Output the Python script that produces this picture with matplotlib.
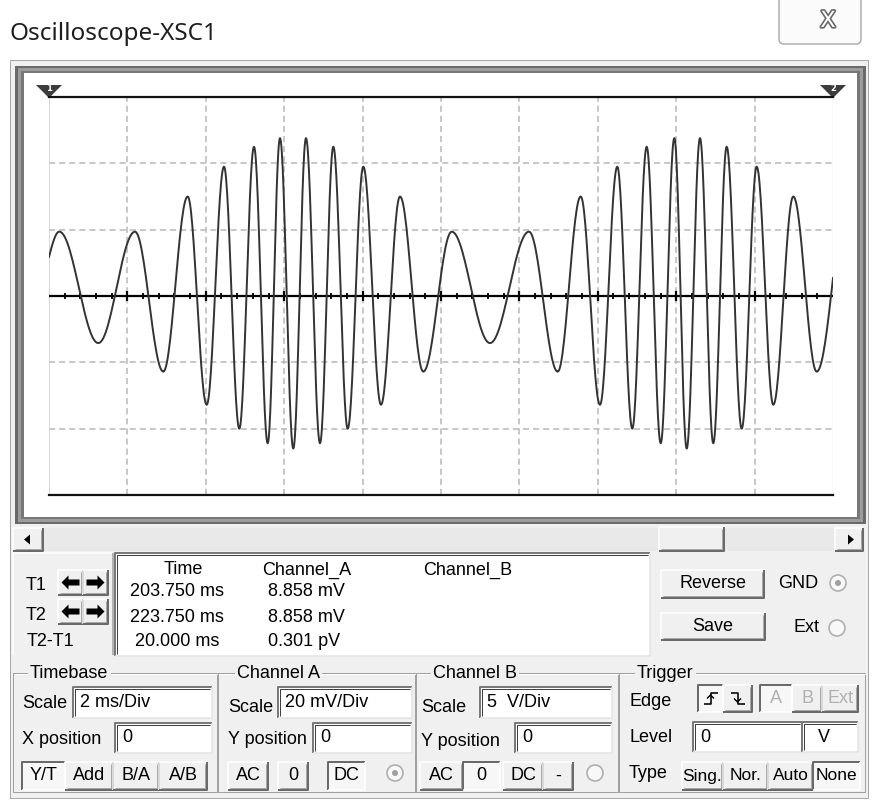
import numpy as np
import matplotlib
matplotlib.use('Agg')
import matplotlib.pyplot as plt
from matplotlib.patches import Rectangle, Polygon, Circle, FancyBboxPatch
import matplotlib.patheffects as pe

# scope settings
time_div_ms = 2
volt_div_mv = 20
n_xdiv = 10
n_ydiv = 3  # each side of zero

# trace extrema (time in ms, value in mV)
extrema_t_ms = [0.000, 0.263, 1.258, 2.194, 2.916, 3.538, 4.023, 4.464, 4.855, 5.230,
                5.579, 5.893, 6.232, 6.556, 6.913, 7.253, 7.620, 8.018, 8.469, 8.954,
                9.548, 10.273, 11.250, 12.245, 12.977, 13.564, 14.056, 14.497, 14.880,
                15.247, 15.605, 15.952, 16.268, 16.607, 16.946, 17.288, 17.671, 18.054,
                18.477, 18.987, 19.584, 20.000]
extrema_mv = [11.8, 19.4, -14.2, 19.4, -22.8, 30.0, -32.8, 39.0, -40.0, 45.0,
              -44.4, 47.6, -46.0, 47.6, -44.4, 45.0, -40.0, 39.0, -32.8, 30.0,
              -22.8, 19.4, -14.2, 19.4, -22.8, 30.0, -32.8, 39.0, -40.0,
              45.0, -44.4, 47.6, -46.0, 47.6, -44.4, 45.0, -40.0, 39.0,
              -32.8, 30.0, -22.8, 5.4]

# readout table
readout_rows = ['T1', 'T2', 'T2-T1']
readout_time = ['203.750 ms', '223.750 ms', '20.000 ms']
readout_cha = ['8.858 mV', '8.858 mV', '0.301 pV']

GUI = 'Liberation Sans'
FS = 13
BG = '#f0f0f0'

fig = plt.figure(figsize=(8.72, 8.0), dpi=100)
fig.patch.set_facecolor('white')
ax = fig.add_axes([0, 0, 1, 1])
ax.set_xlim(0, 872)
ax.set_ylim(800, 0)
ax.axis('off')


def rect(x0, y0, x1, y1, fc, ec='none', lw=1.0, z=1):
    ax.add_patch(Rectangle((x0, y0), x1 - x0, y1 - y0, facecolor=fc,
                           edgecolor=ec, linewidth=lw * 0.72, zorder=z))


def line(xs, ys, c, lw=1.0, z=3):
    ax.plot(xs, ys, color=c, lw=lw * 0.72, zorder=z, solid_capstyle='butt')


def txt(x, y, s, ha='left', c='black', fs=FS, z=5, **kw):
    ax.text(x, y, s, ha=ha, va='center', color=c, fontsize=fs,
            family=GUI, zorder=z, **kw)


def button(x0, y0, x1, y1, label='', pressed=False, tc='black', fs=FS):
    rect(x0, y0, x1, y1, '#f7f7f7' if pressed else BG, z=2)
    if pressed:
        line([x0, x0, x1], [y1, y0, y0], '#6a6a6a', 2)
        line([x0, x1, x1], [y1, y1, y0], '#ffffff', 1.5)
    else:
        line([x0, x0, x1], [y1, y0, y0], '#ffffff', 1.5)
        line([x0, x1, x1], [y1, y1, y0], '#6a6a6a', 2)
        line([x0 + 2, x1 - 2, x1 - 2], [y1 - 2, y1 - 2, y0 + 2], '#a8a8a8', 1)
    if label:
        txt((x0 + x1) / 2, (y0 + y1) / 2, label, ha='center', c=tc, fs=fs)


def field(x0, y0, x1, y1, label=''):
    rect(x0, y0, x1, y1, 'white', z=2)
    line([x0, x0, x1], [y1, y0, y0], '#7a7a7a', 2)
    line([x0 + 2, x0 + 2, x1 - 2], [y1 - 2, y0 + 2, y0 + 2], '#404040', 1)
    line([x0, x1, x1], [y1, y1, y0], '#e4e4e4', 1.5)
    if label:
        txt(x0 + 7, (y0 + y1) / 2, label)


def radio(cx, cy, on=False):
    ax.add_patch(Circle((cx, cy), 8, facecolor='#f8f8f8', edgecolor='#b0b0b0',
                        linewidth=1.2, zorder=3))
    if on:
        ax.add_patch(Circle((cx, cy), 3, facecolor='#a0a0a0', edgecolor='none', zorder=4))


def group(x0, y0, x1, y1, label, lx):
    line([x0, x1, x1, x0, x0], [y0, y0, y1, y1, y0], '#a0a0a0', 1)
    line([x0 + 1, x1 + 1], [y0 + 1, y0 + 1], '#ffffff', 1)
    txt(lx, y0, label, bbox=dict(fc=BG, ec='none', pad=1.5))


def arrow(cx, cy, d):
    pts = [(-9, 0), (-2, -7), (-2, -3), (9, -3), (9, 3), (-2, 3), (-2, 7)]
    ax.add_patch(Polygon([(cx + d * px, cy + py) for px, py in pts], closed=True,
                         facecolor='black', edgecolor='none', zorder=5))


# title bar
ax.text(9, 34, 'Oscilloscope-XSC1', ha='left', va='center', fontsize=17.5,
        family='Noto Sans', color='#1e1e1e')
ax.add_patch(FancyBboxPatch((779, -8), 82, 52, boxstyle='round,pad=0,rounding_size=5',
                            facecolor='#fbfbfb', edgecolor='#a8a8a8', linewidth=1, zorder=2))
ax.text(828, 21, 'X', ha='center', va='center', fontsize=16, family='DejaVu Sans',
        color='white', zorder=4,
        path_effects=[pe.withStroke(linewidth=2.4, foreground='#6a6a6a')])

# window body
rect(10, 60, 868, 798, BG, ec='#a8a8a8', z=0)
rect(15, 66, 866, 524, '#6a6a6a', z=1)
rect(18, 68, 863, 522, '#9c9c9c', z=1)
rect(21, 71, 860, 519, '#777777', z=1)
rect(24, 73, 857, 517, 'white', z=1)

# cursor markers
for cx, lab in [(49, '1'), (833, '2')]:
    ax.add_patch(Polygon([(cx - 13, 85), (cx + 13, 85), (cx, 98)], closed=True,
                         facecolor='#3c3c3c', edgecolor='none', zorder=6))
    ax.text(cx, 88.5, lab, ha='center', va='center', fontsize=6, color='white',
            weight='bold', zorder=7)

# scrollbar
rect(13, 528, 863, 551, '#e9e9e9', z=1)
button(13, 528, 43, 551)
ax.add_patch(Polygon([(24, 539.5), (30, 534.5), (30, 544.5)], facecolor='black', zorder=5))
button(659, 527, 724, 551)
button(835, 528, 863, 551)
ax.add_patch(Polygon([(854, 539.5), (848, 534.5), (848, 544.5)], facecolor='black', zorder=5))

# cursor readout
line([13, 113], [553, 553], '#ffffff', 1.5)
line([13, 13], [553, 655], '#ffffff', 1.5)
line([113, 113], [553, 655], '#a0a0a0', 1.5)
field(115, 553, 650, 656)
for i, lab in enumerate(readout_rows[:2]):
    y0 = 570 + 29 * i
    txt(36, y0 + 16, lab, ha='center')
    button(58, y0, 83, y0 + 25)
    button(83, y0, 108, y0 + 25)
    arrow(70.5, y0 + 12.5, 1)
    arrow(95.5, y0 + 12.5, -1)
txt(50, 642, readout_rows[2], ha='center')
txt(183, 570, 'Time', ha='center')
txt(307, 570, 'Channel_A', ha='center')
txt(468, 570, 'Channel_B', ha='center')
for i in range(3):
    yy = 592 + 25 * i
    txt(177, yy, readout_time[i], ha='center')
    txt(268, yy, readout_cha[i])

button(661, 570, 764, 598, 'Reverse')
button(661, 613, 765, 640, 'Save')
txt(778, 583, 'GND')
radio(838, 583, on=True)
txt(793, 628, 'Ext')
radio(837, 628)

# control groups
group(13, 673, 217, 792, 'Timebase', 30)
group(218, 673, 415, 792, 'Channel A', 237)
group(416, 673, 618, 792, 'Channel B', 433)
group(619, 673, 865, 792, 'Trigger', 637)

txt(22, 703, 'Scale')
field(73, 687, 212, 718, '2 ms/Div')
txt(22, 740, 'X position')
field(115, 723, 212, 753, '0')
for (a, b), lab in zip([(22, 65), (65, 113), (113, 159), (159, 207)], ['Y/T', 'Add', 'B/A', 'A/B']):
    button(a, 762, b, 790, lab, pressed=(lab == 'Y/T'))

txt(228, 707, 'Scale')
field(278, 687, 412, 718, '20 mV/Div')
txt(228, 740, 'Y position')
field(313, 723, 412, 753, '0')
button(228, 762, 268, 790, 'AC')
button(278, 762, 308, 790, '0')
button(328, 762, 365, 790, 'DC', pressed=True)
radio(395, 773, on=True)

txt(421, 707, 'Scale')
field(480, 687, 612, 718, '5  V/Div')
txt(421, 742, 'Y position')
field(515, 723, 612, 753, '0')
button(420, 762, 463, 790, 'AC')
button(463, 762, 500, 790, '0', pressed=True)
button(503, 762, 543, 790, 'DC')
button(543, 762, 573, 790, '-')
radio(595, 773)

txt(629, 702, 'Edge')
button(698, 685, 723, 712, pressed=True)
button(723, 685, 752, 712)
line([703.5, 710.5, 710.5, 717.5], [704, 704, 693, 693], 'black', 1.6, z=6)
line([707, 710.5, 714], [698.5, 695, 698.5], 'black', 1.4, z=6)
line([730.5, 737.5, 737.5, 744.5], [693, 693, 704, 704], 'black', 1.6, z=6)
line([734, 737.5, 741], [698.5, 702, 698.5], 'black', 1.4, z=6)
button(760, 685, 792, 712, 'A', pressed=True, tc='#b0b0b0')
button(792, 685, 822, 712, 'B', tc='#b0b0b0')
button(822, 685, 858, 712, 'Ext', tc='#b0b0b0')
txt(629, 737, 'Level')
field(693, 722, 802, 752, '0')
field(802, 722, 858, 752)
txt(824, 737, 'V', ha='center')
txt(629, 773, 'Type')
for (a, b), lab in zip([(682, 723), (723, 768), (768, 813), (813, 860)], ['Sing.', 'Nor.', 'Auto', 'None']):
    button(a, 762, b, 790, lab, pressed=(lab == 'None'), fs=12.5)

# scope screen
sc = fig.add_axes([49 / 872, 1 - 495 / 800, 784 / 872, 398 / 800])
sc.set_facecolor('none')
t_max = n_xdiv * time_div_ms
v_max = n_ydiv * volt_div_mv
sc.set_xlim(0, t_max)
sc.set_ylim(-v_max, v_max)
sc.axis('off')

for t in np.arange(time_div_ms, t_max, time_div_ms):
    sc.axvline(t, color='#b8b8b8', lw=1.1, dashes=(4, 2.6), zorder=1)
for v in [-2 * volt_div_mv, -volt_div_mv, volt_div_mv, 2 * volt_div_mv]:
    sc.axhline(v, color='#b8b8b8', lw=1.1, dashes=(4, 2.6), zorder=1)
sc.axvline(0, color='#cfcfcf', lw=1.2, zorder=1)
sc.axvline(t_max, color='#e0e0e0', lw=1.0, zorder=1)
sc.plot([0, t_max], [v_max, v_max], color='#111111', lw=1.6, clip_on=False, zorder=4)
sc.plot([0, t_max], [-v_max, -v_max], color='#111111', lw=1.6, clip_on=False, zorder=4)

# centre axis with ticks
sc.axhline(0, color='black', lw=1.6, zorder=3)
minor = np.arange(0.4, t_max, 0.4)
sc.vlines(minor, -0.8, 0.8, color='black', lw=1.3, zorder=3)
sc.vlines(np.arange(time_div_ms, t_max, time_div_ms), -1.4, 1.4, color='black', lw=1.6, zorder=3)

# trace through the read extrema, smooth between neighbours
xs, ys = [], []
n = len(extrema_t_ms)
for i in range(n - 1):
    t0, t1 = extrema_t_ms[i], extrema_t_ms[i + 1]
    v0, v1 = extrema_mv[i], extrema_mv[i + 1]
    s = np.linspace(0, 1, 30)
    if i == 0:
        f = np.sin(np.pi / 2 * s)
    elif i == n - 2:
        f = 1 - np.cos(np.pi / 2 * s)
    else:
        f = (1 - np.cos(np.pi * s)) / 2
    xs.extend(t0 + (t1 - t0) * s)
    ys.extend(v0 + (v1 - v0) * f)
sc.plot(xs, ys, color='#333333', lw=1.4, zorder=5)

fig.savefig('out.png', dpi=100, facecolor=fig.get_facecolor())
